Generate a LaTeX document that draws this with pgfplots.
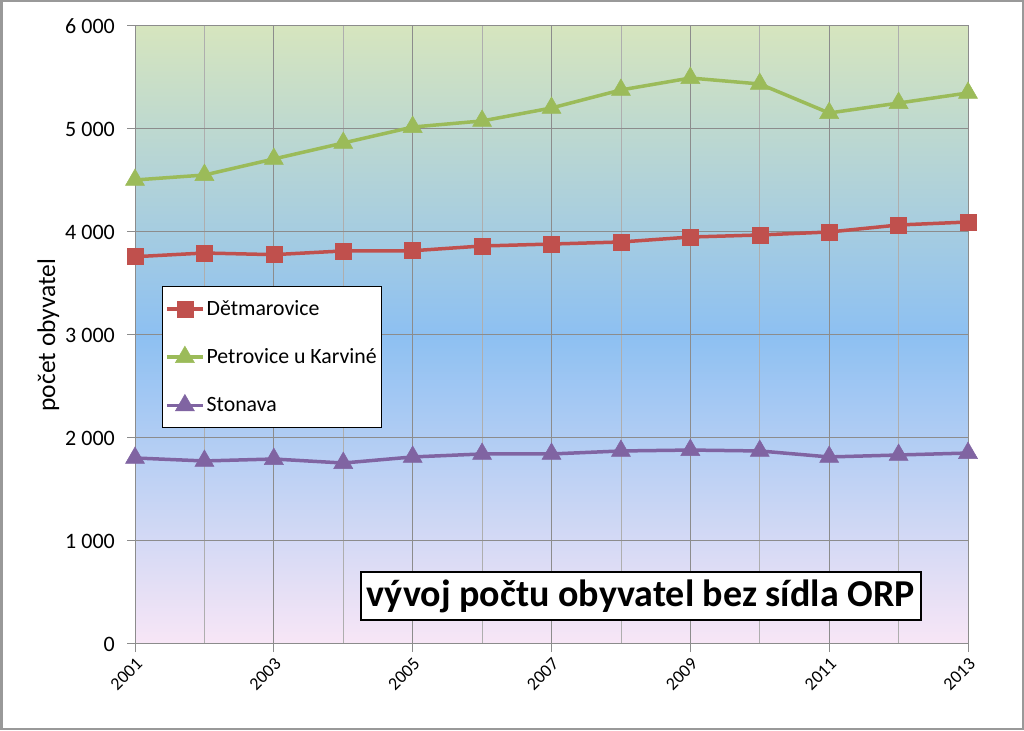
\documentclass[border=0pt]{standalone}
\usepackage{pgfplots}
\pgfplotsset{compat=1.18}
\usepackage{fontspec}
\setmainfont{Carlito}
\definecolor{cRed}{HTML}{C0504D}
\definecolor{cGreen}{HTML}{9BBB59}
\definecolor{cPurple}{HTML}{8064A2}
\definecolor{bgTop}{HTML}{D6E5BE}
\definecolor{bgMid}{HTML}{8DC0F2}
\definecolor{bgBot}{HTML}{F8E6F6}
\definecolor{gridc}{HTML}{8C8C8C}
\begin{document}
\begin{tikzpicture}
\path[use as bounding box] (0pt,0pt) rectangle (1024pt,730pt);
\draw[color=gray!80, line width=2.5pt] (1.25pt,1.25pt) rectangle (1022.75pt,728.75pt);
\begin{axis}[
  at={(135pt,86pt)}, anchor=south west,
  scale only axis, width=833pt, height=618pt,
  xmin=2001, xmax=2013, ymin=0, ymax=6000,
  xtick={2001,2003,...,2013},
  minor xtick={2002,2004,...,2012},
  ytick={0,1000,...,6000},
  yticklabels={0,1 000,2 000,3 000,4 000,5 000,6 000},
  xticklabel style={rotate=45, anchor=north east, font=\fontsize{18}{20}\selectfont, inner sep=3.5pt},
  yticklabel style={font=\fontsize{22}{24}\selectfont, inner sep=12pt},
  /pgf/number format/assume math mode=true,
  x tick label style={/pgf/number format/1000 sep={}},
  grid=both,
  major grid style={gridc, line width=1pt},
  minor grid style={gridc!70, line width=0.8pt},
  axis line style={gridc, line width=1pt},
  tick align=outside,
  major tick length=8pt, minor tick length=0pt,
  tick style={gridc, line width=1pt},
  xtick pos=bottom, ytick pos=left,
  axis background/.style={top color=bgTop, bottom color=bgBot, middle color=bgMid},
  ylabel={počet obyvatel},
  ylabel style={font=\fontsize{25.5}{28}\selectfont, at={(axis description cs:-0.104,0.5)}, anchor=center},
  legend style={at={(0.032,0.579)}, anchor=north west, draw=black, line width=1pt,
    font=\fontsize{21.8}{24}\selectfont, row sep=27pt, inner xsep=3pt, inner ysep=12pt},
  legend cell align=left,
  legend image code/.code={\draw[#1, mark repeat=2, mark phase=2] plot coordinates {(0pt,0pt) (18pt,0pt) (36pt,0pt)};},
]
\addplot[cRed, line width=3.5pt, mark=square*, mark size=8pt, mark options={solid, line width=0.5pt, fill=cRed}]
  coordinates {(2001,3760) (2002,3796) (2003,3780) (2004,3816) (2005,3818) (2006,3864) (2007,3883) (2008,3903) (2009,3951) (2010,3971) (2011,4000) (2012,4068) (2013,4097)};
\addlegendentry{Dětmarovice}
\addplot[cGreen, line width=3.5pt, mark=triangle*, mark size=11pt, mark options={solid, line width=0.5pt, fill=cGreen}]
  coordinates {(2001,4505) (2002,4553) (2003,4709) (2004,4864) (2005,5019) (2006,5078) (2007,5204) (2008,5379) (2009,5495) (2010,5437) (2011,5155) (2012,5252) (2013,5350)};
\addlegendentry{Petrovice u Karviné}
\addplot[cPurple, line width=3.5pt, mark=triangle*, mark size=11pt, mark options={solid, line width=0.5pt, fill=cPurple}]
  coordinates {(2001,1806) (2002,1777) (2003,1796) (2004,1757) (2005,1816) (2006,1845) (2007,1845) (2008,1874) (2009,1883) (2010,1874) (2011,1816) (2012,1835) (2013,1854)};
\addlegendentry{Stonava}
\node[draw=black, line width=2pt, fill=white, inner xsep=6pt, inner ysep=7pt, font=\fontsize{38}{40}\selectfont\bfseries]
  at (rel axis cs:0.607,0.0777) {vývoj počtu obyvatel bez sídla ORP};
\end{axis}
\end{tikzpicture}
\end{document}
